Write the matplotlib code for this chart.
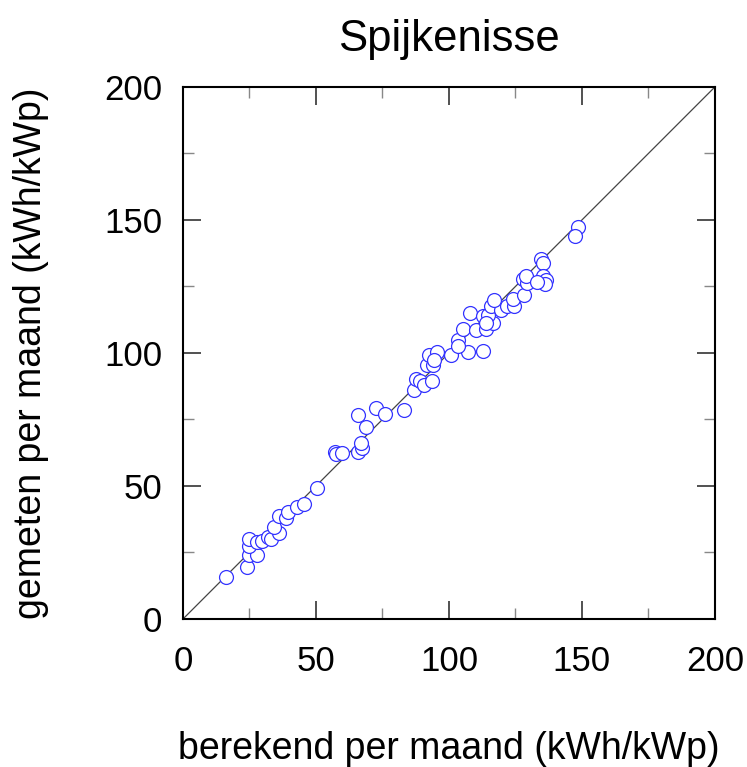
import matplotlib
matplotlib.use('Agg')
import matplotlib.pyplot as plt
from matplotlib.ticker import MultipleLocator

####################################################################################################

plt.rcParams['font.family'] = ['Liberation Sans', 'DejaVu Sans']

# berekend (x) en gemeten (y) per maand, kWh/kWp
berekend = [16.0, 24.1, 24.8, 27.9, 24.8, 24.8, 27.7, 29.8, 32.0, 33.0, 36.0, 34.2, 36.1, 38.6,
            39.6, 42.7, 45.5, 50.5,
            57.1, 57.5, 59.7, 65.9, 67.3, 66.8, 65.9, 68.7, 72.6, 76.1, 83.0,
            86.8, 87.6, 89.3, 90.7, 93.5, 91.8, 94.1, 92.6, 95.4, 94.4, 100.9, 107.3, 112.7,
            103.3, 103.5, 105.1, 110.2, 113.8, 116.4, 107.9, 112.9, 114.8, 115.8, 119.5, 121.7,
            124.4, 113.9, 116.9, 124.2, 128.3, 128.0, 129.2, 129.0, 134.6, 135.2, 135.2, 136.5,
            136.1, 133.0, 148.6, 147.5]
gemeten = [15.6, 19.6, 24.1, 24.1, 27.5, 30.0, 29.0, 29.4, 31.0, 30.2, 32.5, 34.4, 38.8, 37.9,
           40.4, 42.2, 43.2, 49.2,
           62.6, 62.1, 62.3, 62.6, 64.1, 66.2, 76.5, 72.1, 79.4, 77.1, 78.6,
           85.9, 90.1, 89.6, 88.1, 89.6, 95.3, 95.5, 99.1, 100.3, 97.2, 99.1, 100.3, 100.7,
           105.0, 102.8, 109.1, 108.5, 108.9, 111.2, 115.0, 114.0, 114.1, 117.5, 116.3, 117.5,
           117.5, 111.2, 119.8, 120.4, 121.7, 127.8, 126.3, 129.1, 135.5, 133.8, 129.1, 127.6,
           125.8, 126.7, 147.4, 143.9]

####################################################################################################

fig = plt.figure(figsize=(7.47, 7.67), dpi=100)
ax = fig.add_axes([0.245, 0.193, 0.712, 0.6936])

ax.plot([0, 200], [0, 200], color='#444444', linewidth=0.9, zorder=1)
ax.scatter(berekend, gemeten, s=100, facecolor='white', edgecolor='#3333ff',
           linewidth=0.9, zorder=2)

ax.set_xlim(0, 200)
ax.set_ylim(0, 200)

ax.xaxis.set_major_locator(MultipleLocator(50))
ax.yaxis.set_major_locator(MultipleLocator(50))
ax.xaxis.set_minor_locator(MultipleLocator(25))
ax.yaxis.set_minor_locator(MultipleLocator(25))
ax.tick_params(which='both', direction='in', top=True, right=True)
ax.tick_params(which='major', length=13, width=1.1, color='#222222', labelsize=25, pad=19)
ax.tick_params(which='minor', length=8, width=1.0, color='#888888')
ax.tick_params(axis='y', which='major', pad=15)
for spine in ax.spines.values():
    spine.set_linewidth(1.5)

ax.set_xlabel('berekend per maand (kWh/kWp)', fontsize=27, labelpad=38)
ax.set_ylabel('gemeten per maand (kWh/kWp)', fontsize=27, labelpad=40)
ax.set_title('Spijkenisse', fontsize=31.5, pad=26)

fig.savefig('out.png', dpi=100)
